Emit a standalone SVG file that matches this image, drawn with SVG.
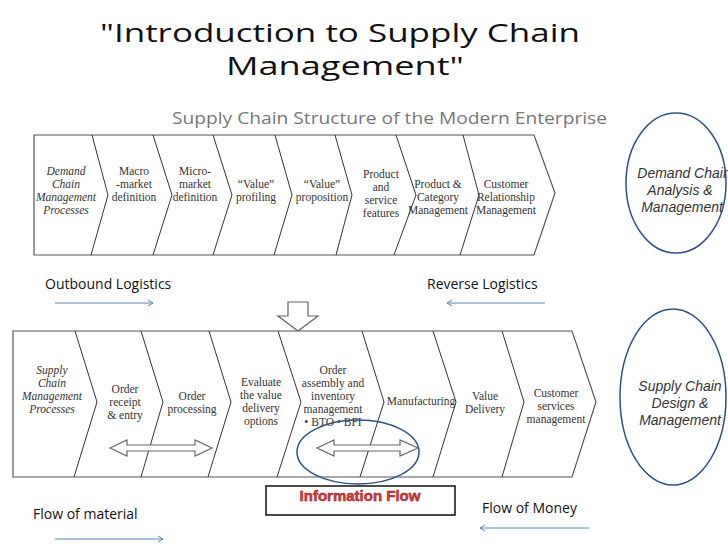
<svg xmlns="http://www.w3.org/2000/svg" width="728" height="546" viewBox="0 0 728 546">
<style>
.band{fill:#fff;stroke:#555;stroke-width:1.2}
.sep{fill:none;stroke:#333;stroke-width:1}
.t{font-family:"Liberation Serif",serif;font-size:11.5px;fill:#333;text-anchor:middle}
.i{font-style:italic}
.s{font-family:"Open Sans",sans-serif;font-size:14px;fill:#111}
.ell{fill:none;stroke:#2e5283;stroke-width:1.5}
.et{font-family:"Liberation Sans",sans-serif;font-style:italic;font-size:14px;fill:#333;text-anchor:middle}
.bl{stroke:#5b86b8;stroke-width:1;fill:none}
.ha{fill:#fff;stroke:#666;stroke-width:1.2}
</style>
<text x="100" y="42" font-family="'Open Sans',sans-serif" font-size="26" textLength="480" lengthAdjust="spacingAndGlyphs" fill="#111">"Introduction to Supply Chain</text>
<text x="226" y="75" font-family="'Open Sans',sans-serif" font-size="26" textLength="238" lengthAdjust="spacingAndGlyphs" fill="#111">Management"</text>
<text x="172" y="124" font-family="'Open Sans',sans-serif" font-size="16" textLength="435" lengthAdjust="spacingAndGlyphs" fill="#777">Supply Chain Structure of the Modern Enterprise</text>

<g id="demand-band">
<path class="band" d="M34 135 H534 L555 193 L534 255 H34 Z"/>
<g class="sep">
<path d="M92 135 L108 195 L91 255"/><path d="M153 135 L172 195 L153 255"/><path d="M213 135 L232 195 L213 255"/><path d="M275 135 L292 195 L274 255"/><path d="M335 135 L352 195 L336 255"/><path d="M396 135 L416 195 L394 255"/><path d="M463 135 L479 195 L460 255"/>
</g>
<text class="t i"><tspan x="66" y="175">Demand</tspan><tspan x="66" y="188">Chain</tspan><tspan x="66" y="201">Management</tspan><tspan x="66" y="214">Processes</tspan></text>
<text class="t"><tspan x="134" y="175">Macro</tspan><tspan x="134" y="188">-market</tspan><tspan x="134" y="201">definition</tspan></text>
<text class="t"><tspan x="195" y="175">Micro-</tspan><tspan x="195" y="188">market</tspan><tspan x="195" y="201">definition</tspan></text>
<text class="t"><tspan x="256" y="188">“Value”</tspan><tspan x="256" y="201">profiling</tspan></text>
<text class="t"><tspan x="322" y="188">“Value”</tspan><tspan x="322" y="201">proposition</tspan></text>
<text class="t"><tspan x="381" y="178">Product</tspan><tspan x="381" y="191">and</tspan><tspan x="381" y="204">service</tspan><tspan x="381" y="217">features</tspan></text>
<text class="t"><tspan x="438" y="188">Product &amp;</tspan><tspan x="438" y="201">Category</tspan><tspan x="438" y="214">Management</tspan></text>
<text class="t"><tspan x="506" y="188">Customer</tspan><tspan x="506" y="201">Relationship</tspan><tspan x="506" y="214">Management</tspan></text>
</g>

<g id="demand-ellipse">
<ellipse class="ell" cx="676" cy="183" rx="50" ry="70"/>
<text class="et"><tspan x="684" y="178">Demand Chain</tspan><tspan x="680" y="195">Analysis &amp;</tspan><tspan x="682" y="212">Management</tspan></text>
</g>

<g id="down-arrow">
<path class="ha" d="M288 302 H308 V316 H318 L298 331 L278 316 H288 Z"/>
</g>

<g id="supply-band">
<path class="band" d="M13 331 H572 L596 402 L572 477 H13 Z"/>
<g class="sep">
<path d="M75 331 L97 402 L74 477"/><path d="M141 331 L163 402 L141 477"/><path d="M209 331 L231 402 L208 477"/><path d="M278 331 L301 402 L277 477"/><path d="M362 331 L384 402 L360 477"/><path d="M433 331 L456 402 L433 477"/><path d="M502 331 L524 402 L502 477"/>
</g>
<text class="t i"><tspan x="52" y="374">Supply</tspan><tspan x="52" y="387">Chain</tspan><tspan x="52" y="400">Management</tspan><tspan x="52" y="413">Processes</tspan></text>
<text class="t"><tspan x="125" y="393">Order</tspan><tspan x="125" y="406">receipt</tspan><tspan x="125" y="419">&amp; entry</tspan></text>
<text class="t"><tspan x="192" y="400">Order</tspan><tspan x="192" y="413">processing</tspan></text>
<text class="t"><tspan x="261" y="386">Evaluate</tspan><tspan x="261" y="399">the value</tspan><tspan x="261" y="412">delivery</tspan><tspan x="261" y="425">options</tspan></text>
<text class="t"><tspan x="333" y="374">Order</tspan><tspan x="333" y="387">assembly and</tspan><tspan x="333" y="400">inventory</tspan><tspan x="333" y="413">management</tspan><tspan x="333" y="426">• BTO • BFI</tspan></text>
<text class="t" x="421" y="405">Manufacturing</text>
<text class="t"><tspan x="485" y="400">Value</tspan><tspan x="485" y="413">Delivery</tspan></text>
<text class="t"><tspan x="556" y="397">Customer</tspan><tspan x="556" y="410">services</tspan><tspan x="556" y="423">management</tspan></text>
</g>

<g id="connectors">
<path class="ha" d="M110 448 L127 440 V445 H195 V440 L212 448 L195 456 V451 H127 V456 Z"/>
<path class="ha" d="M317 448 L334 440 V445 H400 V440 L418 448 L400 456 V451 H334 V456 Z"/>
<path class="bl" d="M55 303 H153 M148 300 L153 303 L148 306"/>
<path class="bl" d="M447 303 H545 M452 300 L447 303 L452 306"/>
<path class="bl" d="M55 539 H163 M158 536 L163 539 L158 542"/>
<path class="bl" d="M480 528 H589 M485 525 L480 528 L485 531"/>
</g>

<g id="info-flow">
<ellipse class="ell" cx="358" cy="452" rx="61" ry="32"/>
<rect x="266" y="486" width="189" height="29" fill="#fff" stroke="#111" stroke-width="1.5"/>
<text x="360" y="501" font-family="'Liberation Sans',sans-serif" font-weight="bold" font-size="15" text-anchor="middle" fill="#e03a3a" stroke="#8b1a1a" stroke-width="0.5">Information Flow</text>
</g>

<g id="supply-ellipse">
<ellipse class="ell" cx="673" cy="397" rx="53" ry="88"/>
<text class="et"><tspan x="680" y="391">Supply Chain</tspan><tspan x="680" y="408">Design &amp;</tspan><tspan x="680" y="425">Management</tspan></text>
</g>

<g id="labels">
<text class="s" x="45" y="289">Outbound Logistics</text>
<text class="s" x="427" y="289">Reverse Logistics</text>
<text class="s" x="33" y="519">Flow of material</text>
<text class="s" x="482" y="513">Flow of Money</text>
</g>
</svg>
